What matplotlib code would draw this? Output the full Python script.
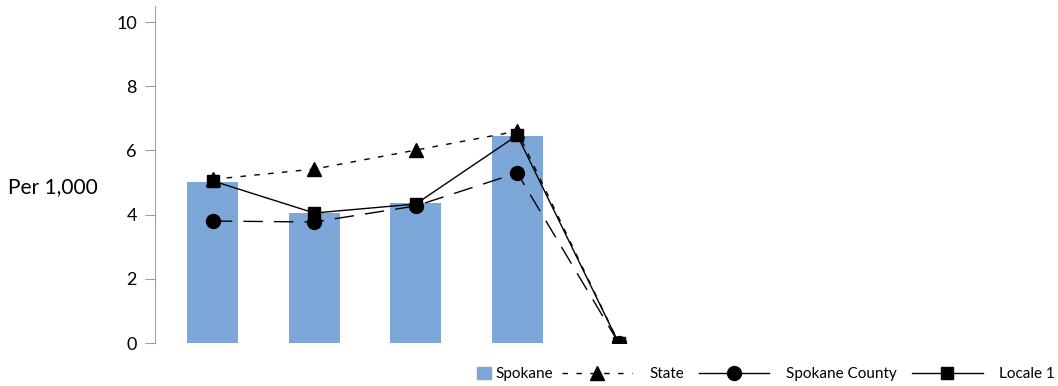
import matplotlib
matplotlib.use('Agg')
import matplotlib.pyplot as plt
from matplotlib.lines import Line2D
from matplotlib.patches import Patch
import numpy as np

plt.rcParams['font.family'] = ['Lato', 'DejaVu Sans']

categories = ['1', '2', '3', '4', '5']
spokane = [5.02, 4.05, 4.36, 6.45, 0.0]
state = [5.1, 5.42, 6.01, 6.6, 0.0]
spokane_county = [3.8, 3.77, 4.27, 5.3, 0.0]
locale_1 = [5.05, 4.05, 4.33, 6.47, 0.0]
yticks = [0, 2, 4, 6, 8, 10]

bar_color = '#7da7d8'

fig = plt.figure(figsize=(10.58, 3.86), dpi=100)
# axes placed in pixel terms: left 155, y=0 at 343, top at 6
ax = fig.add_axes([155/1058., 43/386., (1050-155)/1058., (343-6)/386.])

x = np.arange(len(categories))
ax.bar(x, spokane, width=0.5, color=bar_color, zorder=1)
l_state, = ax.plot(x, state, color='black', lw=1, linestyle=(0, (4, 6)), marker='^',
                   markersize=10, zorder=3)
l_county, = ax.plot(x, spokane_county, color='black', lw=1, linestyle=(0, (14, 8)),
                    marker='o', markersize=10, zorder=3)
l_loc, = ax.plot(x, locale_1, color='black', lw=1, linestyle='-', marker='s',
                 markersize=9, zorder=4)

ax.set_xlim(-0.57, 8.25)
ax.set_ylim(0, 10.5)
ax.set_yticks(yticks)
ax.set_xticks([])
for side in ['top', 'right', 'bottom']:
    ax.spines[side].set_visible(False)
ax.spines['left'].set_color('#a0a0a0')
ax.tick_params(axis='y', length=7, color='#a0a0a0', labelsize=13, pad=6)
fig.text(8/1058., 1 - 187/386., 'Per 1,000', fontsize=15, va='center', ha='left')

# legend: bar swatch separately so it sits right next to its text
leg1 = fig.legend([Patch(color=bar_color)], ['Spokane'], loc='center left',
                  bbox_to_anchor=(477/1058., 12/386.), frameon=False, fontsize=11,
                  handlelength=0.9, handleheight=0.9, handletextpad=0.3,
                  borderpad=0, borderaxespad=0)
h_state = Line2D([], [], color='black', lw=1, linestyle=(0, (4, 6)), marker='^', markersize=10)
h_county = Line2D([], [], color='black', lw=1, linestyle='-', marker='o', markersize=10)
h_loc = Line2D([], [], color='black', lw=1, linestyle='-', marker='s', markersize=9)
fig.legend([h_state, h_county, h_loc], ['State', 'Spokane County', 'Locale 1'],
           loc='center left', bbox_to_anchor=(562/1058., 12/386.), ncol=3,
           frameon=False, fontsize=11, handlelength=4.6, columnspacing=1.0,
           handletextpad=1.1, borderpad=0, borderaxespad=0)

plt.savefig('out.png', dpi=100)
plt.close()
